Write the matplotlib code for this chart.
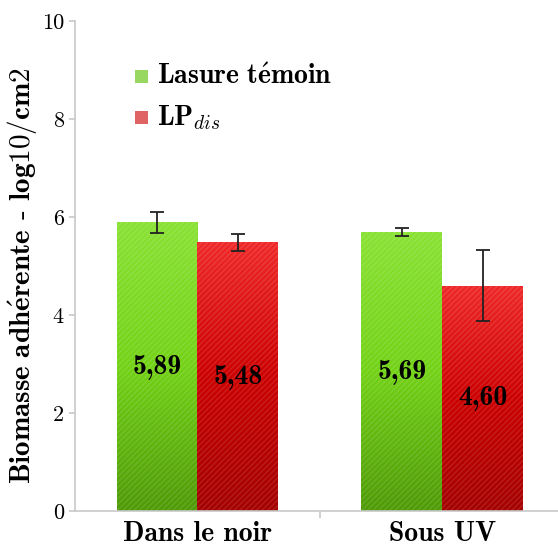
import numpy as np
import matplotlib.pyplot as plt
from matplotlib.colors import LinearSegmentedColormap
from matplotlib.patches import Rectangle

plt.rcParams['mathtext.fontset'] = 'cm'
plt.rcParams['font.family'] = 'serif'
plt.rcParams['font.serif'] = ['cmr10', 'DejaVu Serif']
plt.rcParams['axes.formatter.use_mathtext'] = True

categories = ['Dans le noir', 'Sous UV']
series_names = [r'$\mathbf{Lasure\ t\acute{e}moin}$', r'$\mathbf{LP}_{dis}$']
temoin = [5.89, 5.69]
lpdis = [5.48, 4.60]
temoin_err = [0.22, 0.08]
lpdis_err = [0.17, 0.73]
value_labels = [['5,89', '5,69'], ['5,48', '4,60']]

green_cmap = LinearSegmentedColormap.from_list('g', ['#4e9a06', '#73d216', '#8ae234'])
red_cmap = LinearSegmentedColormap.from_list('r', ['#a40000', '#cc0000', '#ef2929'])

fig = plt.figure(figsize=(5.58, 5.46), dpi=100)
ax = fig.add_axes([0.1344, 0.0641, 0.8776, 0.8974])

x = np.arange(len(categories))
w = 0.33
grad = np.linspace(0, 1, 256).reshape(-1, 1)

def gradient_bars(xs, heights, cmap):
    bars = ax.bar(xs, heights, w, color='none', edgecolor='none', zorder=2)
    for b in bars:
        x0, y0 = b.get_x(), b.get_y()
        bw, bh = b.get_width(), b.get_height()
        im = ax.imshow(grad, cmap=cmap, origin='lower', aspect='auto',
                       extent=[x0, x0 + bw, y0, y0 + bh], zorder=1)
        clip = Rectangle((x0, y0), bw, bh, transform=ax.transData)
        im.set_clip_path(clip)
        ax.bar(x0 + bw / 2, bh, bw, color='none', hatch='//////',
               edgecolor=(1, 1, 1, 0.12), linewidth=0, zorder=2)
    return bars

gradient_bars(x - w / 2, temoin, green_cmap)
gradient_bars(x + w / 2, lpdis, red_cmap)

ax.errorbar(x - w / 2, temoin, yerr=temoin_err, fmt='none', ecolor='#222222',
            elinewidth=1.3, capsize=5, capthick=1.3, zorder=3)
ax.errorbar(x + w / 2, lpdis, yerr=lpdis_err, fmt='none', ecolor='#222222',
            elinewidth=1.3, capsize=5, capthick=1.3, zorder=3)

for i in range(len(categories)):
    ax.text(x[i] - w / 2, temoin[i] / 2, value_labels[0][i], fontfamily='cmb10',
            ha='center', va='center', fontsize=20, zorder=4)
    ax.text(x[i] + w / 2, lpdis[i] / 2, value_labels[1][i], fontfamily='cmb10',
            ha='center', va='center', fontsize=20, zorder=4)

ax.set_xlim(-0.5, 1.5)
ax.set_ylim(0, 10)
ax.set_yticks([0, 2, 4, 6, 8, 10])
ax.set_yticklabels(['0', '2', '4', '6', '8', '10'], fontsize=16)
ax.set_xticks([0.5])
ax.set_xticklabels([''])
ax.tick_params(axis='x', length=5, color='#c8c8c8', width=1.2)
ax.tick_params(axis='y', length=4, color='#c8c8c8', width=1.2, pad=4)
for i, c in enumerate(categories):
    ax.text(x[i], -0.2, c, fontfamily='cmb10', ha='center', va='top', fontsize=20)

for s in ['top', 'right']:
    ax.spines[s].set_visible(False)
for s in ['left', 'bottom']:
    ax.spines[s].set_color('#c8c8c8')
    ax.spines[s].set_linewidth(1.2)

ax.text(-0.108, 0.48, r'$\mathbf{Biomasse\ adh\acute{e}rente}$ - $\mathbf{log10/cm2}$',
        transform=ax.transAxes, rotation=90, ha='center', va='center', fontsize=21)

# legend
leg_x, leg_y = [-0.255, -0.255], [8.86, 8.02]
leg_colors = ['#98d860', '#e06464']
for i in range(2):
    sq = Rectangle((leg_x[i], leg_y[i] - 0.13), 0.053, 0.27, facecolor=leg_colors[i],
                   edgecolor='none', transform=ax.transData, zorder=4)
    ax.add_patch(sq)
    ax.text(leg_x[i] + 0.09, leg_y[i], series_names[i], ha='left', va='center',
            fontsize=20, zorder=4)

fig.savefig('out.png', dpi=100)
